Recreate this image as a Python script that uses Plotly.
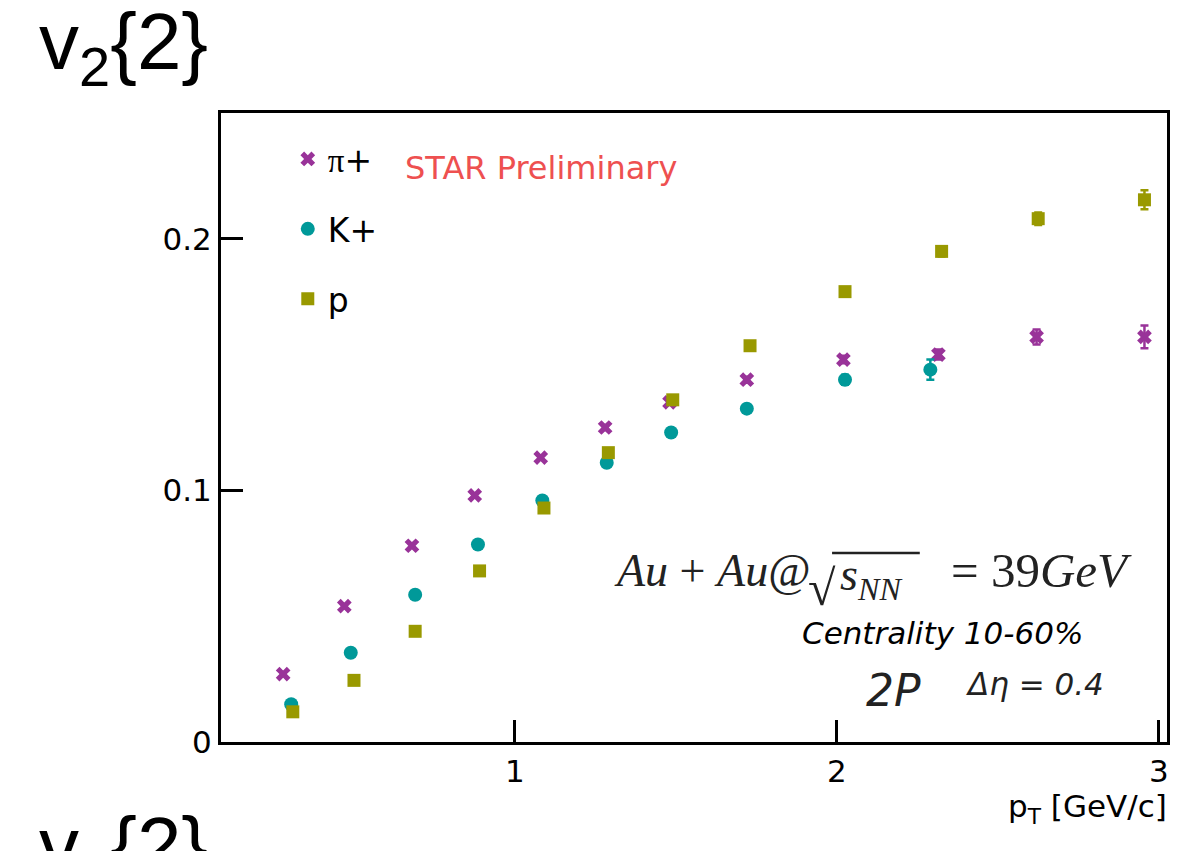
import plotly.graph_objects as go

# pT bin centres [GeV/c], v2{2} values and statistical errors
pt_pion = [0.28, 0.47, 0.68, 0.875, 1.08, 1.28, 1.48, 1.72, 2.02, 2.315, 2.62, 2.955]
v2_pion = [0.027, 0.054, 0.078, 0.098, 0.113, 0.125, 0.135, 0.144, 0.152, 0.154, 0.161, 0.161]
err_pion = [0.0008, 0.0008, 0.0008, 0.0008, 0.0008, 0.001, 0.001, 0.0012, 0.0015, 0.002, 0.003, 0.0045]

pt_kaon = [0.305, 0.49, 0.69, 0.885, 1.085, 1.285, 1.485, 1.72, 2.025, 2.29]
v2_kaon = [0.015, 0.0355, 0.0585, 0.0785, 0.096, 0.111, 0.123, 0.1325, 0.144, 0.148]
err_kaon = [0.0008, 0.0008, 0.0008, 0.0008, 0.001, 0.001, 0.0012, 0.0015, 0.002, 0.004]

pt_proton = [0.31, 0.50, 0.69, 0.89, 1.09, 1.29, 1.49, 1.73, 2.025, 2.325, 2.625, 2.955]
v2_proton = [0.012, 0.0245, 0.044, 0.068, 0.093, 0.115, 0.136, 0.1575, 0.179, 0.195, 0.208, 0.2155]
err_proton = [0.0008, 0.0008, 0.0008, 0.0008, 0.0008, 0.001, 0.001, 0.0012, 0.0015, 0.002, 0.0025, 0.0038]

x_ticks = [1, 2, 3]
y_ticks = [0, 0.1, 0.2]
y_tick_text = ["0", "0.1", "0.2"]

C_PION = "#993399"
C_KAON = "#009999"
C_PROTON = "#999900"

W, H = 1178, 851
L, R, T, B = 221, 8, 113, 109
PW, PH = W - L - R, H - T - B


def px(x):
    return (x - L) / PW


def py(y):
    return (H - B - y) / PH


SANS = "DejaVu Sans, Arial, Helvetica, sans-serif"
ARIAL = "Liberation Sans, Arial, Helvetica, sans-serif"
SERIF = "Liberation Serif, Times New Roman, serif"

fig = go.Figure()


def add_series(x, y, e, name, color, symbol, size):
    fig.add_trace(go.Scatter(
        x=x, y=y, mode="markers", name=name, legendgroup=name,
        marker=dict(color=color, symbol=symbol, size=size, line=dict(width=0)),
        error_y=dict(type="data", array=e, color=color, thickness=2.5, width=4),
    ))


add_series(pt_pion, v2_pion, err_pion,
           "<span style='font-family:Liberation Serif'>π</span>+", C_PION, "x", 13)
add_series(pt_kaon, v2_kaon, err_kaon, "K+", C_KAON, "circle", 14)
add_series(pt_proton, v2_proton, err_proton, "p", C_PROTON, "square", 13)

axis_common = dict(
    showline=True, linecolor="black", linewidth=3, mirror=True,
    ticks="inside", ticklen=22, tickwidth=2.5, tickcolor="black",
    showgrid=False, zeroline=False,
    tickfont=dict(family=SANS, size=31, color="black"),
)

fig.update_xaxes(range=[0.087, 3.025], tickvals=x_ticks, ticktext=[str(v) for v in x_ticks],
                 **axis_common)
fig.update_yaxes(range=[0, 0.25], tickvals=y_ticks, ticktext=y_tick_text, **axis_common)


def note(x, y, text, family, size, color="black", xanchor="left"):
    return dict(x=px(x), y=py(y), xref="paper", yref="paper", text=text,
                xanchor=xanchor, yanchor="middle", showarrow=False,
                font=dict(family=family, size=size, color=color))


annotations = [
    # panel titles
    note(36, 48, "v<sub>2</sub>{2}", ARIAL, 80),
    note(36, 851, "v<sub>2</sub>{2}", ARIAL, 80),
    # x-axis title
    note(1172, 808, "p<sub>T</sub> [GeV/c]", SANS, 31, xanchor="right"),
    # preliminary label
    note(404, 168, "STAR Preliminary", SANS, 32, color="#EE5050"),
    # collision system
    note(613, 570, "<i>Au</i> + <i>Au</i>@", SERIF, 46, color="#222222"),
    note(808, 588, "√", SERIF, 50, color="#222222"),
    note(840, 578, "<i>s</i><sub><i>NN</i></sub>", SERIF, 46, color="#222222"),
    note(1137, 570, "= 39<i>GeV</i>", SERIF, 49, color="#222222", xanchor="right"),
    note(802, 633, "<i>Centrality 10-60%</i>", SANS, 31),
    note(866, 690, "<i>2P</i>", SANS, 44, color="#222222"),
    note(966, 684, "<i>Δη = 0.4</i>", SANS, 31, color="#222222"),
]

fig.update_layout(
    width=W, height=H,
    margin=dict(l=L, r=R, t=T, b=B),
    plot_bgcolor="white", paper_bgcolor="white",
    annotations=annotations,
    shapes=[dict(type="line", xref="paper", yref="paper",
                 x0=px(834), x1=px(922), y0=py(553), y1=py(553),
                 line=dict(color="#222222", width=2.5))],
    showlegend=True,
    legend=dict(x=px(288), y=py(131), xanchor="left", yanchor="top",
                font=dict(family=SANS, size=33, color="black"),
                bgcolor="rgba(0,0,0,0)", tracegroupgap=24, itemwidth=30),
)

fig.write_html("out.html")
